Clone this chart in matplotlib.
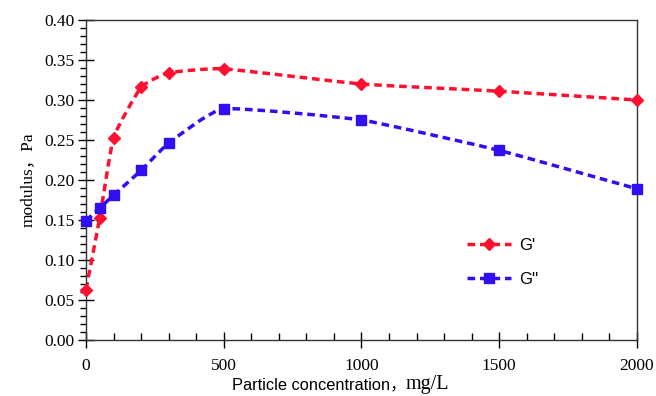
import numpy as np
import matplotlib
matplotlib.use("Agg")
import matplotlib.pyplot as plt
from matplotlib.path import Path
from matplotlib.patches import PathPatch
from matplotlib.ticker import MultipleLocator, FormatStrFormatter

conc = [0, 50, 100, 200, 300, 500, 1000, 1500, 2000]
g_storage = [0.063, 0.153, 0.253, 0.316, 0.334, 0.339, 0.320, 0.311, 0.300]
g_loss = [0.149, 0.165, 0.181, 0.212, 0.246, 0.289, 0.275, 0.237, 0.189]

serif = ["Liberation Serif", "Noto Sans CJK SC"]
sans = ["Liberation Sans", "Noto Sans CJK SC"]


def smooth_path(ax, xs, ys, tension=0.07):
    # light bezier smoothing through the points, done in screen space
    pts = ax.transData.transform(np.column_stack([xs, ys]))
    n = len(pts)
    verts = [pts[0]]; codes = [Path.MOVETO]
    for i in range(n - 1):
        p0 = pts[max(i - 1, 0)]; p1 = pts[i]; p2 = pts[i + 1]; p3 = pts[min(i + 2, n - 1)]
        c1 = p1 + (p2 - p0) * tension
        c2 = p2 - (p3 - p1) * tension
        verts += [c1, c2, p2]; codes += [Path.CURVE4] * 3
    verts = ax.transData.inverted().transform(np.array(verts))
    return Path(verts, codes)


fig = plt.figure(figsize=(6.56, 3.96), dpi=100)
ax = fig.add_axes([0.1311, 0.1414, 0.8399, 0.8081])
ax.set_xlim(0, 2000)
ax.set_ylim(0, 0.40)

dash = (0, (2.2, 1.4))
series = [(g_storage, "#ff1030", "D", 6.5, "G'"), (g_loss, "#3010f0", "s", 7.5, "G''")]
for vals, col, mk, ms, lab in series:
    patch = PathPatch(smooth_path(ax, conc, vals), facecolor="none", edgecolor=col,
                      lw=2.5, linestyle=dash, transform=ax.transData, zorder=2)
    ax.add_patch(patch)
    ax.plot(conc, vals, linestyle="none", marker=mk, ms=ms, color=col, zorder=3, clip_on=False)
    ax.plot([], [], linestyle=dash, lw=2.5, marker=mk, ms=ms, color=col, label=lab)

ax.xaxis.set_major_locator(MultipleLocator(500))
ax.xaxis.set_minor_locator(MultipleLocator(100))
ax.yaxis.set_major_locator(MultipleLocator(0.05))
ax.yaxis.set_minor_locator(MultipleLocator(0.01))
ax.yaxis.set_major_formatter(FormatStrFormatter("%.2f"))

ax.tick_params(axis="x", which="major", direction="inout", length=11, width=1, pad=7.5)
ax.tick_params(axis="x", which="minor", direction="in", length=5, width=1)
ax.tick_params(axis="y", which="major", direction="inout", length=11, width=1, pad=3)
ax.tick_params(axis="y", which="minor", direction="out", length=4, width=1)
for lbl in ax.get_xticklabels() + ax.get_yticklabels():
    lbl.set_family(serif)
    lbl.set_fontsize(12.5)
for s in ax.spines.values():
    s.set_color("#333333")
    s.set_linewidth(1)

# x label: sans text then serif unit, as in the source figure
split_x = 406 / 656
base_y = (396 - 389) / 396
fig.text(split_x, base_y, "Particle concentration，", family=sans, fontsize=11.8,
         ha="right", va="baseline")
fig.text(split_x, base_y, "mg/L", family=serif, fontsize=14.5, ha="left", va="baseline")
ax.set_ylabel("modulus，Pa", family=serif, fontsize=12.5, labelpad=6)

ax.legend(loc="upper left", bbox_to_anchor=(0.665, 0.365), frameon=False,
          prop={"family": sans, "size": 12}, handlelength=2.6, labelspacing=1.1,
          handletextpad=0.5)

fig.savefig("out.png", dpi=100)
